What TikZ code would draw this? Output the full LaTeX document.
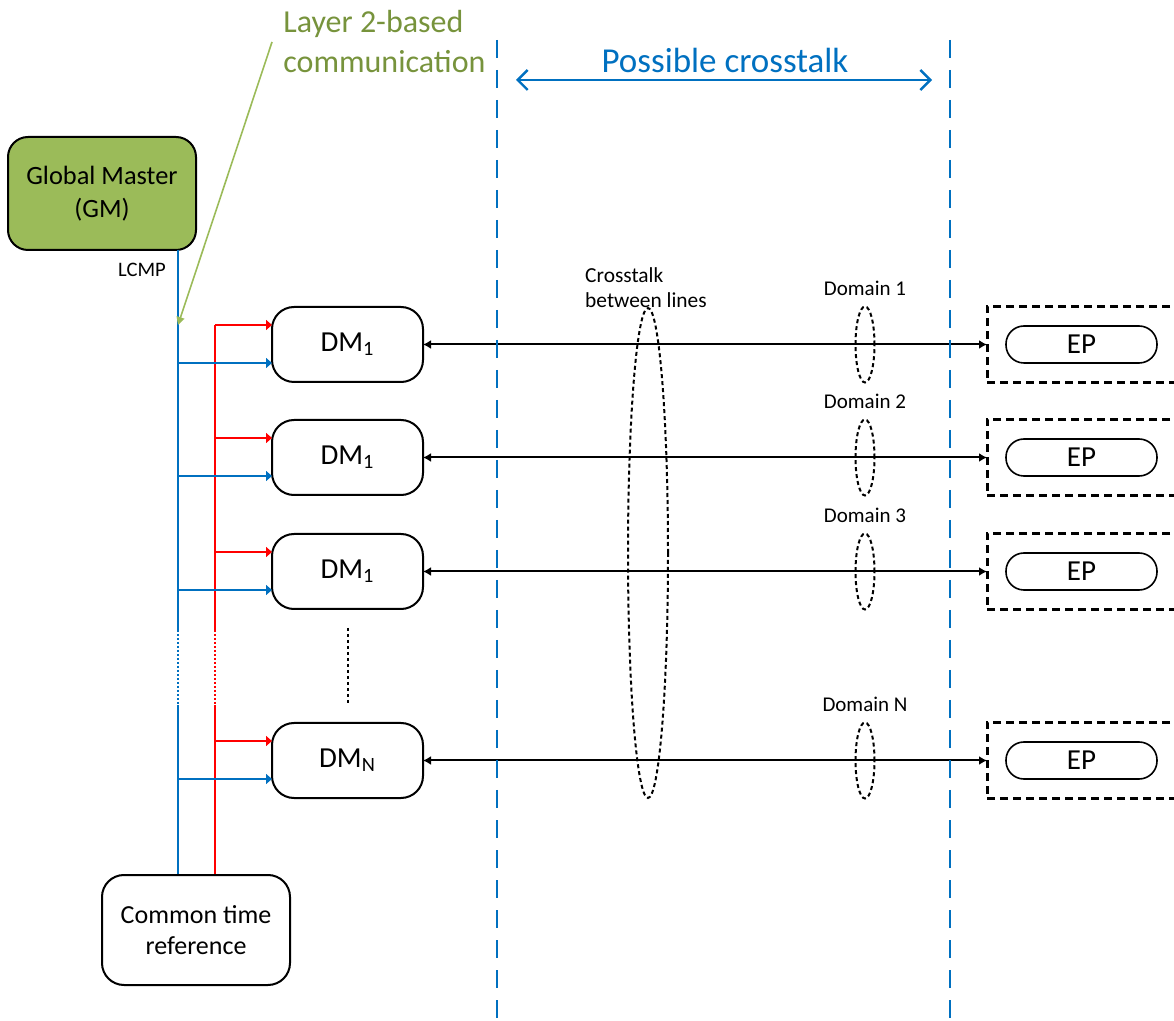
\documentclass[tikz,border=0pt]{standalone}
\usepackage{fontspec}
\setmainfont{Carlito}
\usepackage{xcolor}
\usepackage{tikz}
\usetikzlibrary{calc}
\usetikzlibrary{positioning}
\usetikzlibrary{arrows.meta}
\usetikzlibrary{shapes.geometric}

\definecolor{gmgreen}{HTML}{9BBB59}
\definecolor{txtgreen}{HTML}{77933C}
\definecolor{lineblue}{HTML}{0070C0}
\definecolor{linered}{HTML}{FF0000}

\begin{document}
\begin{tikzpicture}[
    x = .5pt,
    y = -.5pt,
    gmf/.style = {
      rectangle,
      draw=black,
      fill=gmgreen,
      rounded corners=10pt,
      line width=1pt,
      minimum width=94pt,
      minimum height=56.5pt,
      align=center,
      font=\fontsize{13.2}{16.5}\selectfont
    },
    dmf/.style = {
      rectangle,
      draw=black,
      rounded corners=11pt,
      line width=1pt,
      minimum width=75.5pt,
      minimum height=37.5pt,
      outer sep=0pt,
      font=\fontsize{14.5}{17}\selectfont
    },
    ctrf/.style = {
      rectangle,
      draw=black,
      rounded corners=11pt,
      line width=1pt,
      minimum width=94pt,
      minimum height=55pt,
      align=center,
      font=\fontsize{13}{15.5}\selectfont
    },
    epf/.style = {
      rectangle,
      draw=black,
      rounded corners=9pt,
      line width=.8pt,
      minimum width=75.5pt,
      minimum height=18.5pt,
      inner sep=0pt,
      font=\fontsize{14.5}{17}\selectfont
    },
    epboxf/.style = {
      rectangle,
      draw=black,
      dash pattern=on 4pt off 2.5pt,
      line width=1.5pt,
      minimum width=101.5pt,
      minimum height=38pt,
      outer sep=0pt
    },
    domf/.style = {
      ellipse,
      draw=black,
      dash pattern=on 2pt off 1.5pt,
      line width=1pt,
      minimum width=9.5pt,
      minimum height=38pt,
      inner sep=0pt
    },
    labela/.style = {
      font=\fontsize{10.5}{12.5}\selectfont
    },
    bluel/.style = {
      draw=lineblue,
      line width=.8pt
    },
    redl/.style = {
      draw=linered,
      line width=.8pt
    }
  ]
    \useasboundingbox (0,0) rectangle (1174,1021);
    \clip (0,0) rectangle (1174,1021);

    \node[gmf] (gm) at (102,193.5) {Global Master\\(GM)};
    \node[ctrf] (ctr) at (196,930) {Common time\\reference};
    \node[labela, font=\fontsize{10.3}{12}\selectfont] (lcmp) at (142,270) {LCMP};

    \node[align=left, text=txtgreen, anchor=west, inner sep=5.5pt,
          font=\fontsize{16}{20}\selectfont] (l2com) at (272,42)
          {Layer 2-based\\communication};
    \node[text=lineblue, font=\fontsize{17.5}{20}\selectfont] (pcross) at (725,60) {Possible crosstalk};
    \node[labela, align=left, font=\fontsize{10.7}{12.5}\selectfont] (xlines) at (646,288) {Crosstalk\\between lines};

    % rows of domain masters and end points
    \foreach \i/\y/\sub/\d in {1/344.5/1/1, 2/457.5/1/2, 3/571.5/1/3, 4/760.5/N/N} {
      \node[dmf] (dm\i) at (347.5,\y) {DM\textsubscript{\sub}};
      \node[epboxf] (epb\i) at (1088.5,\y) {};
      \node[epf] (ep\i) at (1081.5,\y) {EP};
      \node[domf] (dom\i) at (865,\y) {};
      \node[labela] (dlab\i) [above=1.5pt of dom\i] {Domain \d};
      \draw[line width=1pt, {Latex[length=4pt,width=4.5pt]}-{Latex[length=4pt,width=4.5pt]}]
        (dm\i.east) -- (epb\i.west);
      \coordinate (rd\i) at ($(dm\i.west)+(0,-19.5)$);
      \coordinate (bd\i) at ($(dm\i.west)+(0,18.5)$);
    }

    \node[ellipse, draw, dash pattern=on 2pt off 1.5pt, line width=1pt,
          minimum width=20pt, minimum height=245pt, inner sep=0pt] (xtalk) at (648,553) {};

    % time distribution lines
    \coordinate (bt) at (178,250);
    \coordinate (bgap1) at (178,630);
    \coordinate (bgap2) at (178,705);
    \coordinate (rgap1) at (215,630);
    \coordinate (rgap2) at (215,705);
    \coordinate (rt) at (rgap1 |- rd1);

    \draw[bluel] (bt) -- (bgap1);
    \draw[bluel, dash pattern=on 1pt off 1pt] (bgap1) -- (bgap2);
    \draw[bluel] (bgap2) -- (bt |- ctr.north);
    \draw[redl] (rt) -- (rgap1);
    \draw[redl, dash pattern=on 1pt off 1pt] (rgap1) -- (rgap2);
    \draw[redl] (rgap2) -- (rt |- ctr.north);

    \foreach \i in {1,2,3,4} {
      \draw[redl, -{Triangle[length=3pt,width=5pt]}] (rt |- rd\i) -- (rd\i);
      \draw[bluel, -{Triangle[length=3pt,width=5pt]}] (bt |- bd\i) -- (bd\i);
    }

    \coordinate (dots1) at ($(dm3.south)+(0,19)$);
    \coordinate (dots2) at ($(dm4.north)+(0,-20)$);
    \draw[line width=1pt, dash pattern=on 1.5pt off 1.5pt] (dots1) -- (dots2);

    % green pointer
    \coordinate (gmtap) at (178,325);
    \draw[gmgreen, line width=.8pt, -{Triangle[length=4pt,width=4pt]}] (l2com.west) -- (gmtap);

    % crosstalk boundaries
    \coordinate (lb) at (497,40);
    \coordinate (rb) at (950,40);
    \draw[lineblue, line width=1.2pt, dash pattern=on 9pt off 6pt] (lb) -- ++(0,990);
    \draw[lineblue, line width=1.2pt, dash pattern=on 9pt off 6pt] (rb) -- ++(0,990);
    \coordinate (pca) at (516,80);
    \coordinate (pcb) at (932,80);
    \draw[lineblue, line width=1.2pt, {Straight Barb[length=5pt,width=10pt]}-{Straight Barb[length=5pt,width=10pt]}]
      (pca) -- (pcb);

  \end{tikzpicture}
\end{document}
